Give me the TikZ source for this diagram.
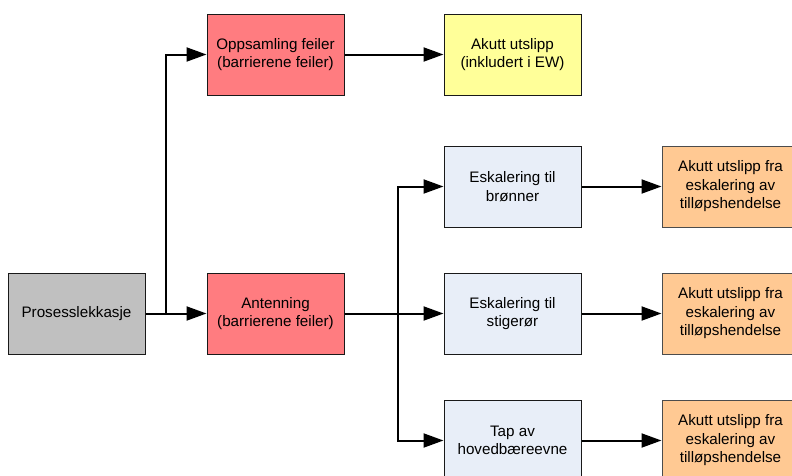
\documentclass[tikz,border=0pt]{standalone}
\usepackage{fontspec}
\setmainfont{Liberation Sans}
\usetikzlibrary{arrows.meta}
\definecolor{cgray}{HTML}{C0C0C0}
\definecolor{cred}{HTML}{FF7C80}
\definecolor{cyellow}{HTML}{FFFF99}
\definecolor{cblue}{HTML}{E8EEF8}
\definecolor{corange}{HTML}{FFC993}
\begin{document}
\begin{tikzpicture}[x=0.75pt,y=-0.75pt,
  box/.style={draw=black!90,line width=0.75pt,minimum width=102.75pt,minimum height=60.75pt,
    inner sep=0pt,align=center,font=\fontsize{11.4}{13.9}\selectfont},
  arr/.style={line width=1.5pt,-{Triangle[length=15pt,width=10.5pt]}},
  ln/.style={line width=1.5pt}]
\useasboundingbox (0,0) rectangle (792,475);
\clip (0,0) rectangle (792,475);
\node[box,fill=cgray] (pros) at (76.5,313.5) {Prosesslekkasje};
\node[box,fill=cred] (opp) at (275.5,54.5) {Oppsamling feiler\\(barrierene feiler)};
\node[box,fill=cred] (ant) at (275.5,313.5) {Antenning\\(barrierene feiler)};
\node[box,fill=cyellow] (akutt) at (512.5,54.5) {Akutt utslipp\\(inkludert i EW)};
\node[box,fill=cblue] (e1) at (512.5,186.5) {Eskalering til\\brønner};
\node[box,fill=cblue] (e2) at (512.5,313.5) {Eskalering til\\stigerør};
\node[box,fill=cblue] (e3) at (512.5,440.5) {Tap av\\hovedbæreevne};
\node[box,fill=corange,draw=black!70] (o1) at (730.5,186.5) {Akutt utslipp fra\\eskalering av\\tilløpshendelse};
\node[box,fill=corange,draw=black!70] (o2) at (730.5,313.5) {Akutt utslipp fra\\eskalering av\\tilløpshendelse};
\node[box,fill=corange,draw=black!70] (o3) at (730.5,440.5) {Akutt utslipp fra\\eskalering av\\tilløpshendelse};
\coordinate (j1) at (166,313.5);
\coordinate (j2) at (398,313.5);
\draw[arr] (pros.east) -- (ant.west);
\draw[arr] (j1) |- (opp.west);
\draw[arr] (opp.east) -- (akutt.west);
\draw[ln] (ant.east) -- (j2);
\draw[arr] (j2) |- (e1.west);
\draw[arr] (j2) -- (e2.west);
\draw[arr] (j2) |- (e3.west);
\draw[arr] (e1.east) -- (o1.west);
\draw[arr] (e2.east) -- (o2.west);
\draw[arr] (e3.east) -- (o3.west);
\end{tikzpicture}
\end{document}
